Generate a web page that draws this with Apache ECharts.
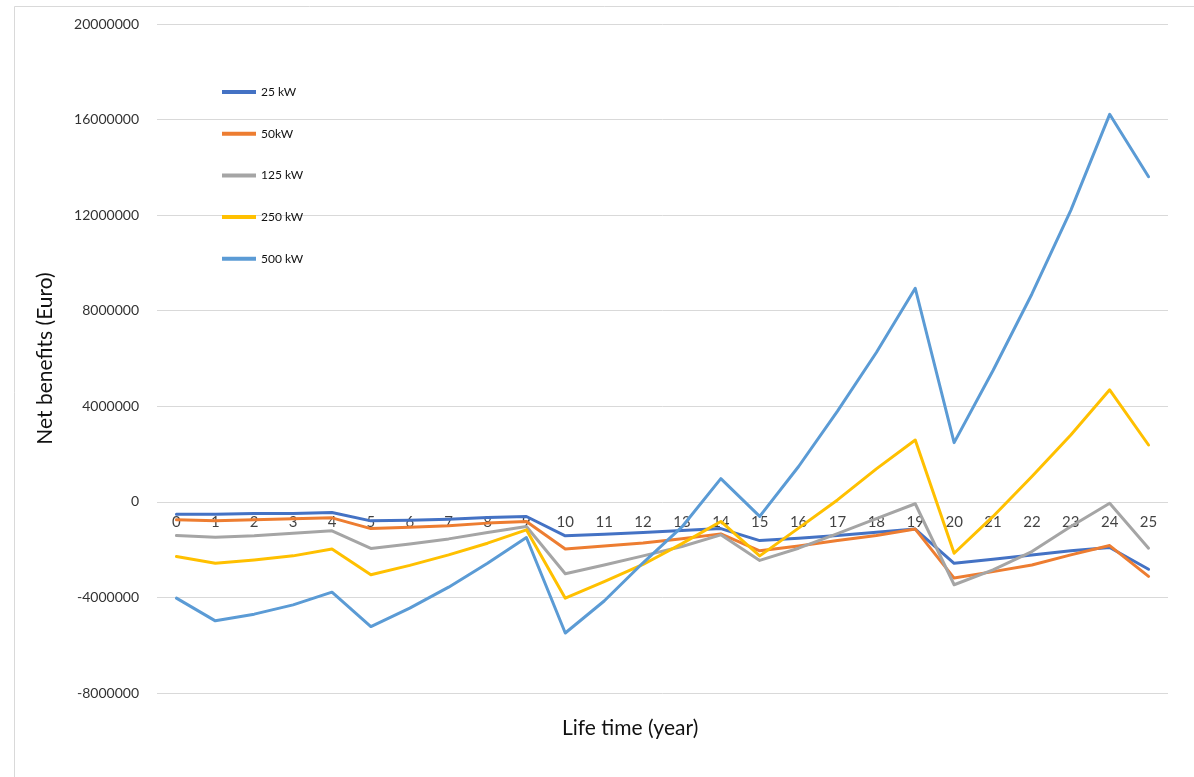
<!DOCTYPE html>
<html>
<head>
<meta charset="utf-8">
<title>Net benefits over life time</title>
<script src="https://cdn.jsdelivr.net/npm/echarts@6/dist/echarts.min.js"></script>
<style>
  html, body { margin: 0; padding: 0; background: #ffffff; }
  #chart { width: 1194px; height: 777px; }
</style>
</head>
<body>
<div id="chart"></div>
<script>
// Life time (year) categories
const years = ['0','1','2','3','4','5','6','7','8','9','10','11','12','13','14','15','16','17','18','19','20','21','22','23','24','25'];

// Net benefits (Euro) per plant size
const kw25 = [-515000, -515000, -490000, -490000, -447000, -795000, -767000, -725000, -655000, -613000,
  -1420000, -1360000, -1280000, -1200000, -1120000, -1620000, -1520000, -1410000, -1270000, -1140000,
  -2570000, -2400000, -2220000, -2050000, -1910000, -2820000];
const kw50 = [-750000, -790000, -750000, -710000, -670000, -1120000, -1060000, -1000000, -890000, -820000,
  -1970000, -1850000, -1720000, -1540000, -1340000, -2050000, -1850000, -1620000, -1410000, -1140000,
  -3190000, -2920000, -2640000, -2220000, -1830000, -3120000];
const kw125 = [-1410000, -1480000, -1420000, -1310000, -1210000, -1950000, -1760000, -1550000, -1280000, -1030000,
  -3010000, -2640000, -2260000, -1870000, -1380000, -2450000, -1940000, -1330000, -700000, -80000,
  -3470000, -2850000, -2080000, -1030000, -60000, -1940000];
const kw250 = [-2290000, -2570000, -2430000, -2260000, -1970000, -3050000, -2660000, -2220000, -1730000, -1170000,
  -4030000, -3340000, -2620000, -1750000, -820000, -2260000, -1100000, 80000, 1380000, 2590000,
  -2150000, -610000, 1060000, 2800000, 4690000, 2380000];
const kw500 = [-4030000, -4980000, -4700000, -4310000, -3780000, -5220000, -4450000, -3570000, -2570000, -1490000,
  -5490000, -4150000, -2550000, -1050000, 970000, -610000, 1480000, 3800000, 6250000, 8940000,
  2480000, 5500000, 8700000, 12200000, 16220000, 13610000];

const seriesNames = ['25 kW', '50kW', '125 kW', '250 kW', '500 kW'];
const seriesColors = ['#4472C4', '#ED7D31', '#A5A5A5', '#FFC000', '#5B9BD5'];
const seriesData = [kw25, kw50, kw125, kw250, kw500];

const FONT = 'Lato, "Open Sans", sans-serif';

const chart = echarts.init(document.getElementById('chart'), null, { renderer: 'canvas' });

// Year labels sit on the zero line, underneath the lines
const yearLabelSeries = {
  name: 'year labels',
  type: 'scatter',
  data: years.map(y => [y, 0]),
  symbolSize: 0,
  silent: true,
  z: 1,
  label: {
    show: true,
    position: 'bottom',
    distance: 13,
    formatter: p => p.value[0],
    fontFamily: FONT,
    fontSize: 15,
    color: '#111111'
  }
};

chart.setOption({
  animation: false,
  backgroundColor: '#ffffff',
  textStyle: { fontFamily: FONT },
  graphic: [{
    type: 'rect',
    shape: { x: 14.5, y: 6.5, width: 1200, height: 800 },
    style: { fill: 'none', stroke: '#d9d9d9', lineWidth: 1 },
    silent: true,
    z: -1
  }],
  title: {
    text: 'Life time (year)',
    left: 557,
    top: 713,
    textStyle: { fontFamily: FONT, fontSize: 21, fontWeight: 'normal', color: '#111111' }
  },
  legend: {
    orient: 'vertical',
    left: 217,
    top: 80,
    icon: 'rect',
    itemWidth: 34,
    itemHeight: 4,
    itemGap: 27.7,
    data: seriesNames,
    textStyle: { fontFamily: FONT, fontSize: 12, color: '#111111', lineHeight: 14 }
  },
  grid: { left: 157, right: 26, top: 24, bottom: 84 },
  xAxis: {
    type: 'category',
    data: years,
    boundaryGap: true,
    axisLine: { show: false },
    axisTick: { show: false },
    axisLabel: { show: false },
    splitLine: { show: false }
  },
  yAxis: {
    type: 'value',
    min: -8000000,
    max: 20000000,
    interval: 4000000,
    name: 'Net benefits (Euro)',
    nameLocation: 'middle',
    nameRotate: 90,
    nameGap: 101,
    nameTextStyle: { fontFamily: FONT, fontSize: 21, color: '#111111' },
    axisLine: { show: false },
    axisTick: { show: false },
    axisLabel: {
      fontFamily: FONT, fontSize: 14, color: '#333333', margin: 18,
      formatter: v => String(v)
    },
    splitLine: { lineStyle: { color: '#d9d9d9', width: 1 } }
  },
  series: [yearLabelSeries].concat(seriesNames.map((name, i) => ({
    name: name,
    type: 'line',
    data: seriesData[i],
    symbol: 'none',
    smooth: false,
    z: 2,
    color: seriesColors[i],
    lineStyle: { color: seriesColors[i], width: 3, cap: 'round', join: 'round' }
  })))
});
</script>
</body>
</html>
